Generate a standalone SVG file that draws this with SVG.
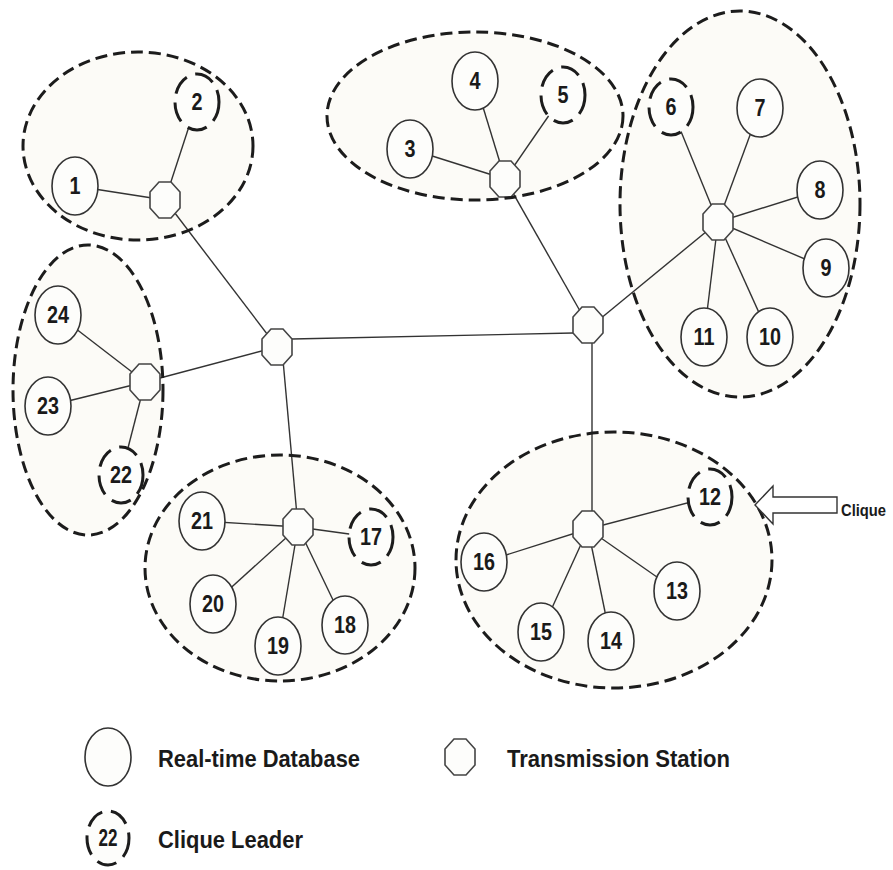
<svg xmlns="http://www.w3.org/2000/svg" width="893" height="870" viewBox="0 0 893 870">
  <style>
    .clique-fill { fill: #fcfbf7; stroke: none; }
    .clique-line { fill: none; stroke: #1c1c1c; stroke-width: 3; stroke-dasharray: 12 6; }
    .edge { stroke: #333; stroke-width: 1.4; fill: none; }
    .db { fill: #fdfdfb; stroke: #333; stroke-width: 1.6; }
    .leader { fill: #fdfdfb; stroke: #1c1c1c; stroke-width: 3; stroke-dasharray: 20 9; }
    .hub { fill: #fdfdfb; stroke: #444; stroke-width: 1.6; }
    .lbl { font-family: "Liberation Sans", Arial, sans-serif; font-weight: bold; font-size: 23px; fill: #1a1a1a; text-anchor: middle; }
    .legend { font-family: "Liberation Sans", Arial, sans-serif; font-weight: bold; font-size: 24px; fill: #1a1a1a; }
  </style>
  <defs>
    <polygon id="oct" points="-6,-18 6,-18 15,-8 15,8 6,18 -6,18 -15,8 -15,-8"/>
  </defs>

  <rect width="893" height="870" fill="#ffffff"/>

  <!-- clique areas (fill) -->
  <g id="clique-areas">
    <ellipse class="clique-fill" cx="138" cy="146" rx="115" ry="94"/>
    <ellipse class="clique-fill" cx="475" cy="116" rx="148" ry="84"/>
    <ellipse class="clique-fill" cx="740" cy="204" rx="120" ry="193"/>
    <ellipse class="clique-fill" cx="88" cy="390" rx="75" ry="145"/>
    <ellipse class="clique-fill" cx="280" cy="568" rx="135" ry="113"/>
    <ellipse class="clique-fill" cx="614" cy="560" rx="158" ry="128"/>
  </g>

  <!-- connectors -->
  <g id="connectors">
    <!-- backbone -->
    <line class="edge" x1="292" y1="339" x2="573" y2="333"/>
    <line class="edge" x1="165" y1="200" x2="277" y2="347"/>
    <line class="edge" x1="145" y1="382" x2="277" y2="347"/>
    <line class="edge" x1="283" y1="360" x2="298" y2="527"/>
    <line class="edge" x1="505" y1="179" x2="588" y2="325"/>
    <line class="edge" x1="718" y1="222" x2="600" y2="319"/>
    <line class="edge" x1="592" y1="330" x2="592" y2="529"/>
    <!-- clique 1 -->
    <line class="edge" x1="165" y1="200" x2="75" y2="186"/>
    <line class="edge" x1="165" y1="200" x2="197" y2="102"/>
    <!-- clique 2 -->
    <line class="edge" x1="505" y1="179" x2="410" y2="149"/>
    <line class="edge" x1="505" y1="179" x2="475" y2="81"/>
    <line class="edge" x1="505" y1="179" x2="563" y2="95"/>
    <!-- clique 3 -->
    <line class="edge" x1="718" y1="222" x2="671" y2="107"/>
    <line class="edge" x1="718" y1="222" x2="760" y2="108"/>
    <line class="edge" x1="718" y1="222" x2="820" y2="190"/>
    <line class="edge" x1="718" y1="222" x2="826" y2="268"/>
    <line class="edge" x1="718" y1="222" x2="770" y2="337"/>
    <line class="edge" x1="718" y1="222" x2="704" y2="337"/>
    <!-- clique 4 -->
    <line class="edge" x1="145" y1="382" x2="58" y2="315"/>
    <line class="edge" x1="145" y1="382" x2="48" y2="406"/>
    <line class="edge" x1="145" y1="382" x2="121" y2="475"/>
    <!-- clique 5 -->
    <line class="edge" x1="298" y1="527" x2="202" y2="521"/>
    <line class="edge" x1="298" y1="527" x2="213" y2="604"/>
    <line class="edge" x1="298" y1="527" x2="278" y2="646"/>
    <line class="edge" x1="298" y1="527" x2="345" y2="625"/>
    <line class="edge" x1="298" y1="527" x2="371" y2="537"/>
    <!-- clique 6 -->
    <line class="edge" x1="588" y1="529" x2="710" y2="497"/>
    <line class="edge" x1="588" y1="529" x2="677" y2="591"/>
    <line class="edge" x1="588" y1="529" x2="611" y2="641"/>
    <line class="edge" x1="588" y1="529" x2="541" y2="632"/>
    <line class="edge" x1="588" y1="529" x2="484" y2="562"/>
  </g>

  <!-- transmission stations -->
  <g id="station-1"><use href="#oct" class="hub" x="165" y="200"/></g>
  <g id="station-2"><use href="#oct" class="hub" x="505" y="179"/></g>
  <g id="station-3"><use href="#oct" class="hub" x="718" y="222"/></g>
  <g id="station-4"><use href="#oct" class="hub" x="145" y="382"/></g>
  <g id="station-5"><use href="#oct" class="hub" x="298" y="527"/></g>
  <g id="station-6"><use href="#oct" class="hub" x="588" y="529"/></g>
  <g id="station-a"><use href="#oct" class="hub" x="277" y="347"/></g>
  <g id="station-b"><use href="#oct" class="hub" x="588" y="325"/></g>

  <!-- real-time databases -->
  <g id="node-1"><ellipse class="db" cx="75" cy="186" rx="23" ry="29"/><text class="lbl" x="75" y="194" textLength="11" lengthAdjust="spacingAndGlyphs">1</text></g>
  <g id="node-2"><ellipse class="leader" cx="197" cy="102" rx="22" ry="28"/><text class="lbl" x="197" y="110" textLength="11" lengthAdjust="spacingAndGlyphs">2</text></g>
  <g id="node-3"><ellipse class="db" cx="410" cy="149" rx="23" ry="29"/><text class="lbl" x="410" y="157" textLength="11" lengthAdjust="spacingAndGlyphs">3</text></g>
  <g id="node-4"><ellipse class="db" cx="475" cy="81" rx="23" ry="29"/><text class="lbl" x="475" y="89" textLength="11" lengthAdjust="spacingAndGlyphs">4</text></g>
  <g id="node-5"><ellipse class="leader" cx="563" cy="95" rx="22" ry="28"/><text class="lbl" x="563" y="103" textLength="11" lengthAdjust="spacingAndGlyphs">5</text></g>
  <g id="node-6"><ellipse class="leader" cx="671" cy="107" rx="22" ry="28"/><text class="lbl" x="671" y="115" textLength="11" lengthAdjust="spacingAndGlyphs">6</text></g>
  <g id="node-7"><ellipse class="db" cx="760" cy="108" rx="23" ry="29"/><text class="lbl" x="760" y="116" textLength="11" lengthAdjust="spacingAndGlyphs">7</text></g>
  <g id="node-8"><ellipse class="db" cx="820" cy="190" rx="23" ry="29"/><text class="lbl" x="820" y="198" textLength="11" lengthAdjust="spacingAndGlyphs">8</text></g>
  <g id="node-9"><ellipse class="db" cx="826" cy="268" rx="23" ry="29"/><text class="lbl" x="826" y="276" textLength="11" lengthAdjust="spacingAndGlyphs">9</text></g>
  <g id="node-10"><ellipse class="db" cx="770" cy="337" rx="23" ry="29"/><text class="lbl" x="770" y="345" textLength="22" lengthAdjust="spacingAndGlyphs">10</text></g>
  <g id="node-11"><ellipse class="db" cx="704" cy="337" rx="23" ry="29"/><text class="lbl" x="704" y="345" textLength="21" lengthAdjust="spacingAndGlyphs">11</text></g>
  <g id="node-12"><ellipse class="leader" cx="710" cy="497" rx="22" ry="28"/><text class="lbl" x="710" y="505" textLength="22" lengthAdjust="spacingAndGlyphs">12</text></g>
  <g id="node-13"><ellipse class="db" cx="677" cy="591" rx="23" ry="29"/><text class="lbl" x="677" y="599" textLength="22" lengthAdjust="spacingAndGlyphs">13</text></g>
  <g id="node-14"><ellipse class="db" cx="611" cy="641" rx="23" ry="29"/><text class="lbl" x="611" y="649" textLength="22" lengthAdjust="spacingAndGlyphs">14</text></g>
  <g id="node-15"><ellipse class="db" cx="541" cy="632" rx="23" ry="29"/><text class="lbl" x="541" y="640" textLength="22" lengthAdjust="spacingAndGlyphs">15</text></g>
  <g id="node-16"><ellipse class="db" cx="484" cy="562" rx="23" ry="29"/><text class="lbl" x="484" y="570" textLength="22" lengthAdjust="spacingAndGlyphs">16</text></g>
  <g id="node-17"><ellipse class="leader" cx="371" cy="537" rx="22" ry="28"/><text class="lbl" x="371" y="545" textLength="22" lengthAdjust="spacingAndGlyphs">17</text></g>
  <g id="node-18"><ellipse class="db" cx="345" cy="625" rx="23" ry="29"/><text class="lbl" x="345" y="633" textLength="22" lengthAdjust="spacingAndGlyphs">18</text></g>
  <g id="node-19"><ellipse class="db" cx="278" cy="646" rx="23" ry="29"/><text class="lbl" x="278" y="654" textLength="22" lengthAdjust="spacingAndGlyphs">19</text></g>
  <g id="node-20"><ellipse class="db" cx="213" cy="604" rx="23" ry="29"/><text class="lbl" x="213" y="612" textLength="22" lengthAdjust="spacingAndGlyphs">20</text></g>
  <g id="node-21"><ellipse class="db" cx="202" cy="521" rx="23" ry="29"/><text class="lbl" x="202" y="529" textLength="22" lengthAdjust="spacingAndGlyphs">21</text></g>
  <g id="node-22"><ellipse class="leader" cx="121" cy="475" rx="22" ry="28"/><text class="lbl" x="121" y="483" textLength="22" lengthAdjust="spacingAndGlyphs">22</text></g>
  <g id="node-23"><ellipse class="db" cx="48" cy="406" rx="23" ry="29"/><text class="lbl" x="48" y="414" textLength="22" lengthAdjust="spacingAndGlyphs">23</text></g>
  <g id="node-24"><ellipse class="db" cx="58" cy="315" rx="23" ry="29"/><text class="lbl" x="58" y="323" textLength="22" lengthAdjust="spacingAndGlyphs">24</text></g>

  <!-- clique outlines -->
  <g id="clique-outlines">
    <ellipse class="clique-line" cx="138" cy="146" rx="115" ry="94"/>
    <ellipse class="clique-line" cx="475" cy="116" rx="148" ry="84"/>
    <ellipse class="clique-line" cx="740" cy="204" rx="120" ry="193"/>
    <ellipse class="clique-line" cx="88" cy="390" rx="75" ry="145"/>
    <ellipse class="clique-line" cx="280" cy="568" rx="135" ry="113"/>
    <ellipse class="clique-line" cx="614" cy="560" rx="158" ry="128"/>
  </g>

  <!-- clique pointer -->
  <g id="clique-pointer">
    <polygon points="755,505 773,486 773,497 837,497 837,513 773,513 773,524" fill="#ffffff" stroke="#333" stroke-width="1.4"/>
    <text x="841" y="516" font-family="Liberation Sans, Arial, sans-serif" font-weight="bold" font-size="16" fill="#1a1a1a" textLength="45" lengthAdjust="spacingAndGlyphs">Clique</text>
  </g>

  <!-- legend -->
  <g id="legend">
    <ellipse class="db" cx="108" cy="757" rx="23" ry="29"/>
    <text class="legend" x="158" y="767" textLength="202" lengthAdjust="spacingAndGlyphs">Real-time Database</text>
    <use href="#oct" class="hub" x="460" y="757"/>
    <text class="legend" x="507" y="767" textLength="223" lengthAdjust="spacingAndGlyphs">Transmission Station</text>
    <ellipse class="leader" cx="108" cy="838" rx="21" ry="27"/>
    <text class="lbl" x="108" y="846" font-size="20" textLength="19" lengthAdjust="spacingAndGlyphs">22</text>
    <text class="legend" x="158" y="848" textLength="145" lengthAdjust="spacingAndGlyphs">Clique Leader</text>
  </g>
</svg>
